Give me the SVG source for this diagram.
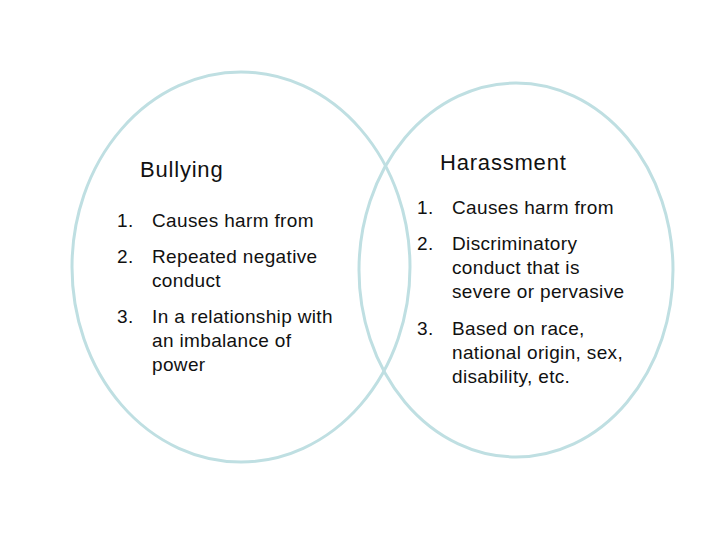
<svg xmlns="http://www.w3.org/2000/svg" width="720" height="540" viewBox="0 0 720 540">
<style>
.ring{fill:none;stroke:#bfdfe2;stroke-width:3}
text{font-family:"Liberation Sans",Arial,sans-serif;fill:#111}
.title{font-size:22px;letter-spacing:0.8px}
.item{font-size:19px;letter-spacing:0.35px}
</style>
<rect width="720" height="540" fill="#fff"/>
<g id="bullying">
<ellipse class="ring" cx="241" cy="267" rx="169" ry="195"/>
<text class="title" x="140" y="177">Bullying</text>
<text class="item" x="117" y="227">1.</text>
<text class="item" x="152" y="227">Causes harm from</text>
<text class="item" x="117" y="263">2.</text>
<text class="item" x="152" y="263">Repeated negative</text>
<text class="item" x="152" y="287">conduct</text>
<text class="item" x="117" y="323">3.</text>
<text class="item" x="152" y="323">In a relationship with</text>
<text class="item" x="152" y="347">an imbalance of</text>
<text class="item" x="152" y="371">power</text>
</g>
<g id="harassment">
<ellipse class="ring" cx="516" cy="270" rx="157" ry="187"/>
<text class="title" x="440" y="170">Harassment</text>
<text class="item" x="417" y="214">1.</text>
<text class="item" x="452" y="214">Causes harm from</text>
<text class="item" x="417" y="250">2.</text>
<text class="item" x="452" y="250">Discriminatory</text>
<text class="item" x="452" y="274">conduct that is</text>
<text class="item" x="452" y="298">severe or pervasive</text>
<text class="item" x="417" y="335">3.</text>
<text class="item" x="452" y="335">Based on race,</text>
<text class="item" x="452" y="359">national origin, sex,</text>
<text class="item" x="452" y="383">disability, etc.</text>
</g>
<g id="connectors"></g>
</svg>
